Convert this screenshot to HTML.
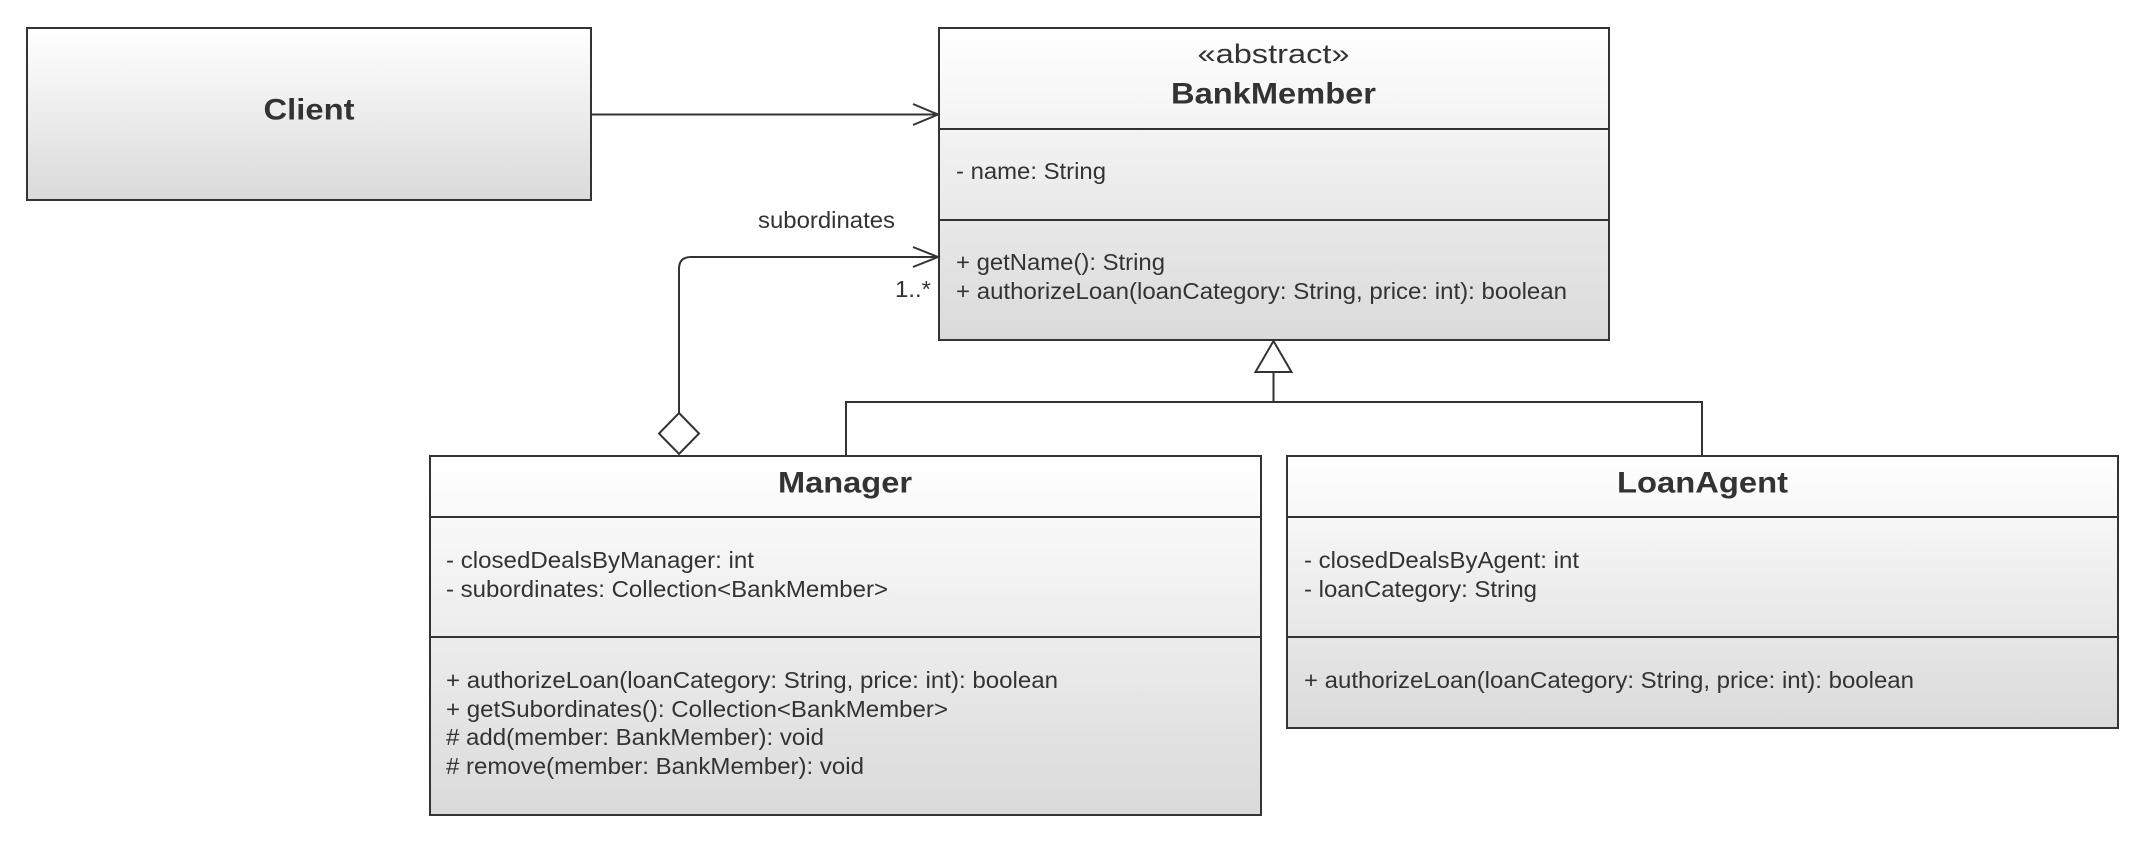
<!DOCTYPE html>
<html><head><meta charset="utf-8"><style>html,body{margin:0;padding:0;background:#fff}svg{display:block}</style></head>
<body>
<svg width="2147" height="844" viewBox="0 0 2147 844" xmlns="http://www.w3.org/2000/svg" font-family="Liberation Sans, Arial, sans-serif" fill="#333">
<defs>
<linearGradient id="g" x1="0" y1="0" x2="0" y2="1"><stop offset="0" stop-color="#ffffff"/><stop offset="1" stop-color="#dadada"/></linearGradient>
</defs>
<g stroke="#333" stroke-width="2">
<rect x="27" y="28" width="564" height="172" fill="url(#g)"/>
<rect x="939" y="28" width="670" height="312" fill="url(#g)"/>
<line x1="939" y1="129" x2="1609" y2="129"/><line x1="939" y1="220" x2="1609" y2="220"/>
<rect x="430" y="456" width="831" height="359" fill="url(#g)"/>
<line x1="430" y1="517" x2="1261" y2="517"/><line x1="430" y1="637" x2="1261" y2="637"/>
<rect x="1287" y="456" width="831" height="272" fill="url(#g)"/>
<line x1="1287" y1="517" x2="2118" y2="517"/><line x1="1287" y1="637" x2="2118" y2="637"/>
<g fill="none">
<line x1="591" y1="114.5" x2="938" y2="114.5"/>
<polyline points="913,104 938,114.5 913,125"/>
<path d="M679,413 V269 Q679,257 691,257 H938"/>
<polyline points="913,247 938,257 913,267"/>
<path d="M846,456 V402 H1702 V456"/>
<line x1="1273.5" y1="402" x2="1273.5" y2="372"/>
</g>
<polygon points="1273.5,341 1255.5,372 1291.5,372" fill="#fff"/>
<polygon points="679,413 699,433.5 679,454 659,433.5" fill="#fff"/>
</g>
<g stroke="none" dominant-baseline="central" lengthAdjust="spacingAndGlyphs">
<text x="309" y="110" text-anchor="middle" font-weight="bold" font-size="30" textLength="91" lengthAdjust="spacingAndGlyphs">Client</text>
<text x="1273.5" y="54" text-anchor="middle" font-size="27" textLength="152" lengthAdjust="spacingAndGlyphs">«abstract»</text>
<text x="1273.5" y="94" text-anchor="middle" font-weight="bold" font-size="30" textLength="205" lengthAdjust="spacingAndGlyphs">BankMember</text>
<text x="956" y="171" font-size="23" textLength="150" lengthAdjust="spacingAndGlyphs">- name: String</text>
<text x="956" y="262" font-size="23" textLength="209" lengthAdjust="spacingAndGlyphs">+ getName(): String</text>
<text x="956" y="291" font-size="23" textLength="611" lengthAdjust="spacingAndGlyphs">+ authorizeLoan(loanCategory: String, price: int): boolean</text>
<text x="758" y="220" font-size="23" textLength="137" lengthAdjust="spacingAndGlyphs">subordinates</text>
<text x="895" y="289" font-size="23" textLength="36" lengthAdjust="spacingAndGlyphs">1..*</text>
<text x="845" y="483" text-anchor="middle" font-weight="bold" font-size="30" textLength="134" lengthAdjust="spacingAndGlyphs">Manager</text>
<text x="446" y="560" font-size="23" textLength="308" lengthAdjust="spacingAndGlyphs">- closedDealsByManager: int</text>
<text x="446" y="589" font-size="23" textLength="442" lengthAdjust="spacingAndGlyphs">- subordinates: Collection&lt;BankMember&gt;</text>
<text x="446" y="680" font-size="23" textLength="612" lengthAdjust="spacingAndGlyphs">+ authorizeLoan(loanCategory: String, price: int): boolean</text>
<text x="446" y="709" font-size="23" textLength="502" lengthAdjust="spacingAndGlyphs">+ getSubordinates(): Collection&lt;BankMember&gt;</text>
<text x="446" y="737" font-size="23" textLength="378" lengthAdjust="spacingAndGlyphs"># add(member: BankMember): void</text>
<text x="446" y="766" font-size="23" textLength="418" lengthAdjust="spacingAndGlyphs"># remove(member: BankMember): void</text>
<text x="1702.5" y="483" text-anchor="middle" font-weight="bold" font-size="30" textLength="171" lengthAdjust="spacingAndGlyphs">LoanAgent</text>
<text x="1304" y="560" font-size="23" textLength="275" lengthAdjust="spacingAndGlyphs">- closedDealsByAgent: int</text>
<text x="1304" y="589" font-size="23" textLength="233" lengthAdjust="spacingAndGlyphs">- loanCategory: String</text>
<text x="1304" y="680" font-size="23" textLength="610" lengthAdjust="spacingAndGlyphs">+ authorizeLoan(loanCategory: String, price: int): boolean</text>
</g>
</svg>
</body></html>
